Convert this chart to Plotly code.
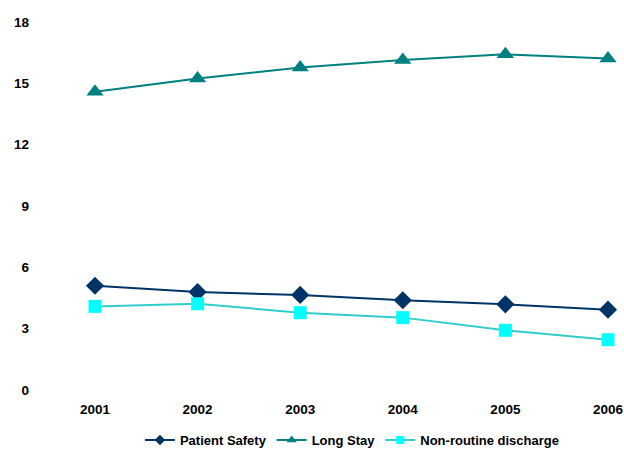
import plotly.graph_objects as go

years = ["2001", "2002", "2003", "2004", "2005", "2006"]
patient_safety = [5.10, 4.79, 4.65, 4.39, 4.19, 3.93]
long_stay = [14.59, 15.24, 15.77, 16.14, 16.42, 16.22]
non_routine = [4.09, 4.22, 3.78, 3.54, 2.92, 2.46]
y_ticks = [0, 3, 6, 9, 12, 15, 18]

FONT = "Arial, Liberation Sans, sans-serif"
x_idx = list(range(len(years)))

series = [
    ("Patient Safety", patient_safety, "#003366", "#003366", "diamond", 14, 8),
    ("Long Stay", long_stay, "#008080", "#008080", "triangle-up", 15, 9),
    ("Non-routine discharge", non_routine, "#33CCCC", "#00FFFF", "square", 13, 8),
]

fig = go.Figure()
for name, vals, lcol, mcol, sym, size, lsize in series:
    fig.add_trace(go.Scatter(
        x=x_idx, y=vals, name=name, mode="lines+markers",
        line=dict(color=lcol, width=2),
        marker=dict(symbol=sym, size=size, color=mcol),
        cliponaxis=False, showlegend=False,
    ))
    # legend entry with a smaller key symbol
    fig.add_trace(go.Scatter(
        x=[None], y=[None], name=name, mode="lines+markers",
        line=dict(color=lcol, width=2),
        marker=dict(symbol=sym, size=lsize, color=mcol),
        showlegend=True,
    ))

fig.update_layout(
    width=624, height=449,
    margin=dict(l=40, r=0, t=22, b=59, autoexpand=False),
    paper_bgcolor="white", plot_bgcolor="white",
    font=dict(family=FONT, size=13, color="black"),
    legend=dict(
        orientation="h", x=0.535, xanchor="center",
        yref="container", y=0.02, yanchor="middle",
        font=dict(family=FONT, size=13, color="black", weight="bold"),
        itemwidth=30, tracegroupgap=0,
    ),
    xaxis=dict(
        range=[-0.536, 5.156], tickmode="array", tickvals=x_idx, ticktext=years,
        showgrid=False, zeroline=False, showline=False, ticks="",
        tickfont=dict(family=FONT, size=13.5, color="black", weight="bold"),
        ticklabelstandoff=9, automargin=False,
    ),
    yaxis=dict(
        range=[0, 18], tickmode="array", tickvals=y_ticks,
        showgrid=False, zeroline=False, showline=False, ticks="",
        tickfont=dict(family=FONT, size=13.5, color="black", weight="bold"),
        ticklabelstandoff=10, automargin=False,
    ),
)

fig.write_html("out.html")
